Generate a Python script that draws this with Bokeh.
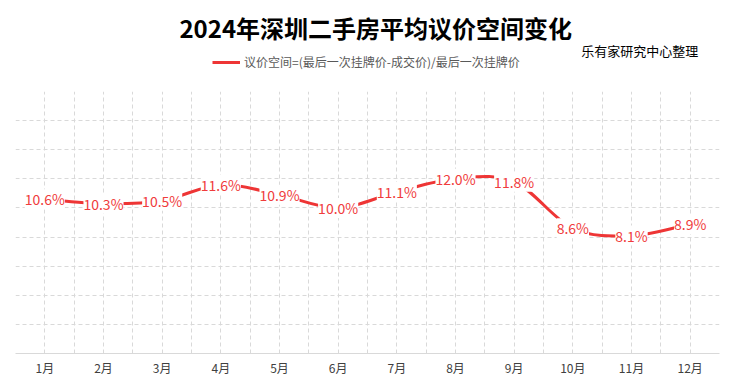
from bokeh.plotting import figure
from bokeh.layouts import column
from bokeh.models import (ColumnDataSource, FixedTicker, LabelSet, Legend, LegendItem, Range1d)
from bokeh.core.properties import value
from bokeh.embed import file_html
from bokeh.resources import INLINE

# ---- data ----
months = ["1月", "2月", "3月", "4月", "5月", "6月", "7月", "8月", "9月", "10月", "11月", "12月"]
values = [10.6, 10.3, 10.5, 11.6, 10.9, 10.0, 11.1, 12.0, 11.8, 8.6, 8.1, 8.9]
grid_values = [2, 4, 6, 8, 10, 12, 14, 16, 18]
title_text = "2024年深圳二手房平均议价空间变化"
credit_text = "乐有家研究中心整理"
series_name = "议价空间=(最后一次挂牌价-成交价)/最后一次挂牌价"

FONT = "Noto Sans CJK SC"
RED_LINE = "#ee3535"
RED_TEXT = "#f03c3c"
GRID = "#d9d9d9"
W = 727
TOP_H = 86
MAIN_H = 293

xs = list(range(1, len(months) + 1))
labels = [f"{v:.1f}%" for v in values]

# smooth curve (Catmull-Rom -> cubic bezier) in data space
n = len(values)
bx0, by0, bx1, by1, cx0, cy0, cx1, cy1 = [], [], [], [], [], [], [], []
for i in range(n - 1):
    xm1, ym1 = (xs[i - 1], values[i - 1]) if i > 0 else (xs[i], values[i])
    xa, ya = xs[i], values[i]
    xb, yb = xs[i + 1], values[i + 1]
    xp2, yp2 = (xs[i + 2], values[i + 2]) if i + 2 < n else (xs[i + 1], values[i + 1])
    bx0.append(xa); by0.append(ya); bx1.append(xb); by1.append(yb)
    cx0.append(xa + (xb - xm1) / 6.0); cy0.append(ya + (yb - ym1) / 6.0)
    cx1.append(xb - (xp2 - xa) / 6.0); cy1.append(yb - (yp2 - ya) / 6.0)

# ---------------- header figure (title, credit, legend) ----------------
top = figure(width=W, height=TOP_H, output_backend="svg", toolbar_location=None,
             x_range=Range1d(0, W), y_range=Range1d(0, TOP_H),
             x_axis_type=None, y_axis_type=None,
             min_border=0, min_border_left=0, min_border_right=0,
             min_border_top=0, min_border_bottom=0)
top.grid.visible = False
top.outline_line_color = None
top.background_fill_color = "white"
top.border_fill_color = "white"

def py(page_y):
    return TOP_H - page_y

top.text(x=[372], y=[py(27)], text=[title_text], text_font=value(FONT),
         text_font_size="24px", text_font_style="bold", text_color="black",
         text_align="center", text_baseline="middle")
top.text(x=[705], y=[py(50)], text=[credit_text], text_font=value(FONT),
         text_font_size="13px", text_color="black",
         text_align="right", text_baseline="middle")

# renderer for the legend key (same series; sits outside the header's visible range)
key = top.line(x=xs, y=[v + 1000 for v in values], line_color=RED_LINE, line_width=3)
legend = Legend(items=[LegendItem(label=series_name, renderers=[key])],
                location=(197, py(62) - 8), orientation="horizontal",
                label_text_font=FONT, label_text_font_size="12px",
                label_text_color="#595959", border_line_color=None,
                background_fill_alpha=0, glyph_width=28, glyph_height=16,
                padding=0, margin=0, label_standoff=4, label_height=16)
top.add_layout(legend)

# ---------------- main chart ----------------
p = figure(width=W, height=MAIN_H, output_backend="svg", toolbar_location=None,
           x_range=Range1d(0.5, 12.5), y_range=Range1d(0, 18),
           min_border_left=15, min_border_right=8, min_border_bottom=26, min_border_top=5)
p.outline_line_color = None
p.background_fill_color = "white"
p.border_fill_color = "white"

p.yaxis.visible = False
p.xaxis.ticker = FixedTicker(ticks=xs)
p.xaxis.major_label_overrides = {x: m for x, m in zip(xs, months)}
p.xaxis.axis_line_color = GRID
p.xaxis.axis_line_width = 1
p.xaxis.major_tick_line_color = None
p.xaxis.minor_tick_line_color = None
p.xaxis.major_tick_out = 0
p.xaxis.major_tick_in = 0
p.xaxis.minor_tick_out = 0
p.xaxis.minor_tick_in = 0
p.xaxis.major_label_text_font = FONT
p.xaxis.major_label_text_font_size = "12px"
p.xaxis.major_label_text_color = "#404040"
p.xaxis.major_label_standoff = 5

p.xgrid.ticker = FixedTicker(ticks=[x - 0.5 for x in xs] + [x for x in xs] + [xs[-1] + 0.5])
p.xgrid.grid_line_color = GRID
p.xgrid.grid_line_dash = "4 3"
p.ygrid.ticker = FixedTicker(ticks=grid_values)
p.ygrid.grid_line_color = GRID
p.ygrid.grid_line_dash = "4 3"

curve = p.bezier(x0=bx0, y0=by0, x1=bx1, y1=by1, cx0=cx0, cy0=cy0, cx1=cx1, cy1=cy1,
                 line_color=RED_LINE, line_width=3)

src = ColumnDataSource(dict(x=xs, y=values, t=labels))
lbl = LabelSet(x="x", y="y", text="t", source=src, text_align="center",
               text_baseline="middle", text_font=value(FONT), text_font_size="14px",
               text_color=RED_TEXT, background_fill_color="white",
               background_fill_alpha=1.0)
p.add_layout(lbl)

layout = column(top, p, spacing=0)
open("out.html", "w").write(file_html(layout, INLINE))
